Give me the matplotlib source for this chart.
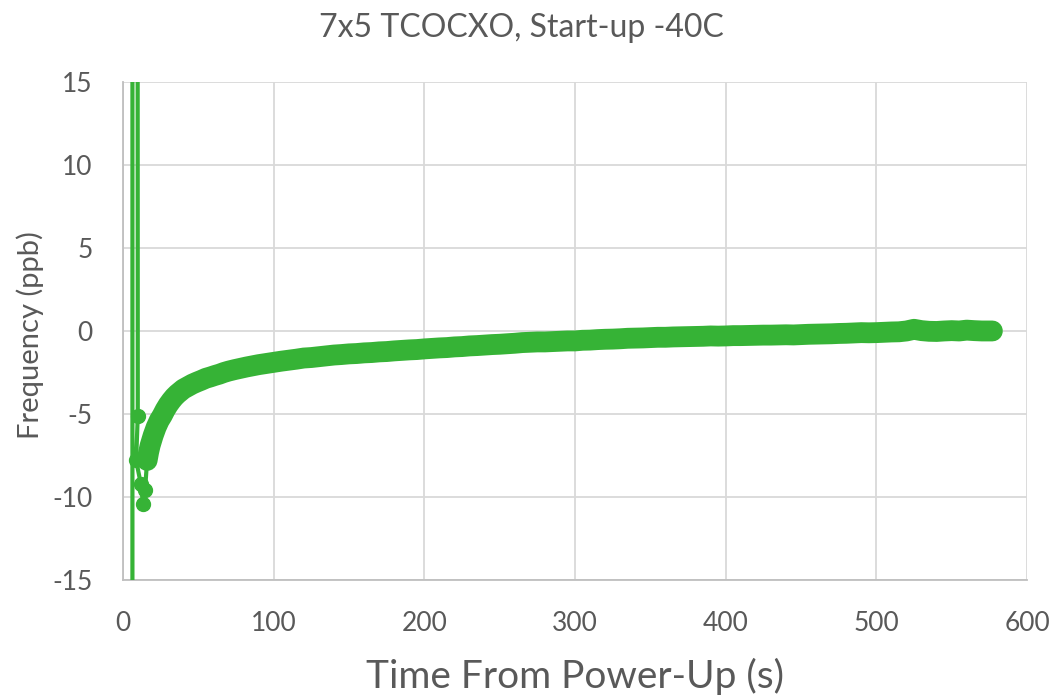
import matplotlib
matplotlib.use("Agg")
import matplotlib.pyplot as plt

plt.rcParams["font.family"] = ["Lato", "DejaVu Sans"]
plt.rcParams["axes.unicode_minus"] = False

TITLE = "7x5 TCOCXO, Start-up -40C"
XLABEL = "Time From Power-Up (s)"
YLABEL = "Frequency (ppb)"

# power-up transient: counter reads garbage for the first samples
t_start = [6.0, 6.5, 9.8, 8.7, 11.8, 13.3, 14.6, 16.0]
f_start = [-900.0, 900.0, -5.1, -7.8, -9.2, -10.4, -9.6, -7.8]

# settling part of the run
t_settle = [16, 17, 18, 19, 20, 22, 24, 26, 28, 30, 32, 34, 36, 38, 40,
            43, 46, 49, 52, 55, 58, 61, 64, 67, 70, 74, 78, 82, 86, 90,
            95, 100, 105, 110, 115, 120, 125, 130, 135, 140, 145, 150, 155,
            160, 165, 170, 175, 180, 185, 190, 195, 200, 205, 210, 215, 220,
            225, 230, 235, 240, 245, 250, 255, 260, 265, 270, 275, 280, 285,
            290, 295, 300, 305, 310, 315, 320, 325, 330, 335, 340, 345, 350,
            355, 360, 365, 370, 375, 380, 385, 390, 395, 400, 405, 410, 415,
            420, 425, 430, 435, 440, 445, 450, 455, 460, 465, 470, 475, 480,
            485, 490, 495, 500, 505, 510, 515, 520, 525, 530, 535, 540, 545,
            550, 555, 560, 565, 570, 575, 577]
f_settle = [-7.8, -7.3, -6.9, -6.6, -6.3, -5.8, -5.4, -5.1, -4.75, -4.45,
            -4.2, -3.98, -3.8, -3.65, -3.5, -3.35, -3.2, -3.08, -2.97, -2.85,
            -2.77, -2.68, -2.6, -2.5, -2.42, -2.33, -2.25, -2.17, -2.1, -2.03,
            -1.96, -1.89, -1.82, -1.76, -1.7, -1.63, -1.6, -1.55, -1.5, -1.45,
            -1.42, -1.38, -1.36, -1.32, -1.3, -1.26, -1.24, -1.2, -1.17, -1.14,
            -1.12, -1.08, -1.05, -1.02, -1.0, -0.96, -0.94, -0.9, -0.88, -0.85,
            -0.82, -0.8, -0.77, -0.74, -0.7, -0.68, -0.66, -0.66, -0.64, -0.62,
            -0.6, -0.6, -0.56, -0.55, -0.52, -0.5, -0.49, -0.47, -0.44, -0.43,
            -0.42, -0.4, -0.38, -0.38, -0.36, -0.35, -0.34, -0.33, -0.32, -0.3,
            -0.31, -0.3, -0.28, -0.28, -0.27, -0.26, -0.25, -0.25, -0.24, -0.23,
            -0.24, -0.22, -0.2, -0.19, -0.18, -0.17, -0.15, -0.14, -0.12, -0.1,
            -0.11, -0.1, -0.08, -0.06, -0.05, 0.0, 0.1, 0.02, -0.02, -0.03,
            0.0, 0.02, 0.0, 0.05, 0.02, 0.0, 0.0, 0.0]

x_ticks = [0, 100, 200, 300, 400, 500, 600]
y_ticks = [-15, -10, -5, 0, 5, 10, 15]

GREEN = "#36b336"
TXT = "#595959"
GRID = "#d9d9d9"

fig = plt.figure(figsize=(10.55, 6.97), dpi=100)
ax = fig.add_axes([0.1166, 0.1679, 0.8569, 0.7145])

ax.plot(t_start, f_start, color=GREEN, lw=3.0, marker="o", ms=10, zorder=3)
ax.plot(t_settle, f_settle, color=GREEN, lw=15, marker="o", ms=10,
        solid_capstyle="round", solid_joinstyle="round", zorder=3)

ax.set_xlim(0, 600)
ax.set_ylim(-15, 15)
ax.set_xticks(x_ticks)
ax.set_yticks(y_ticks)
ax.grid(True, color=GRID, lw=1.3)
ax.set_axisbelow(True)
for side in ("top", "right"):
    ax.spines[side].set_visible(False)
for side in ("left", "bottom"):
    ax.spines[side].set_color("#bfbfbf")
    ax.spines[side].set_linewidth(1.3)
ax.tick_params(length=0, labelsize=19, labelcolor=TXT, pad=22)

fig.text(0.494, 0.960, TITLE, ha="center", va="center", fontsize=23, color=TXT)
fig.text(0.545, 0.029, XLABEL, ha="center", va="center", fontsize=28, color=TXT)
fig.text(0.029, 0.519, YLABEL, ha="center", va="center", rotation=90,
         fontsize=21, color=TXT)

fig.savefig("out.png", dpi=100)
